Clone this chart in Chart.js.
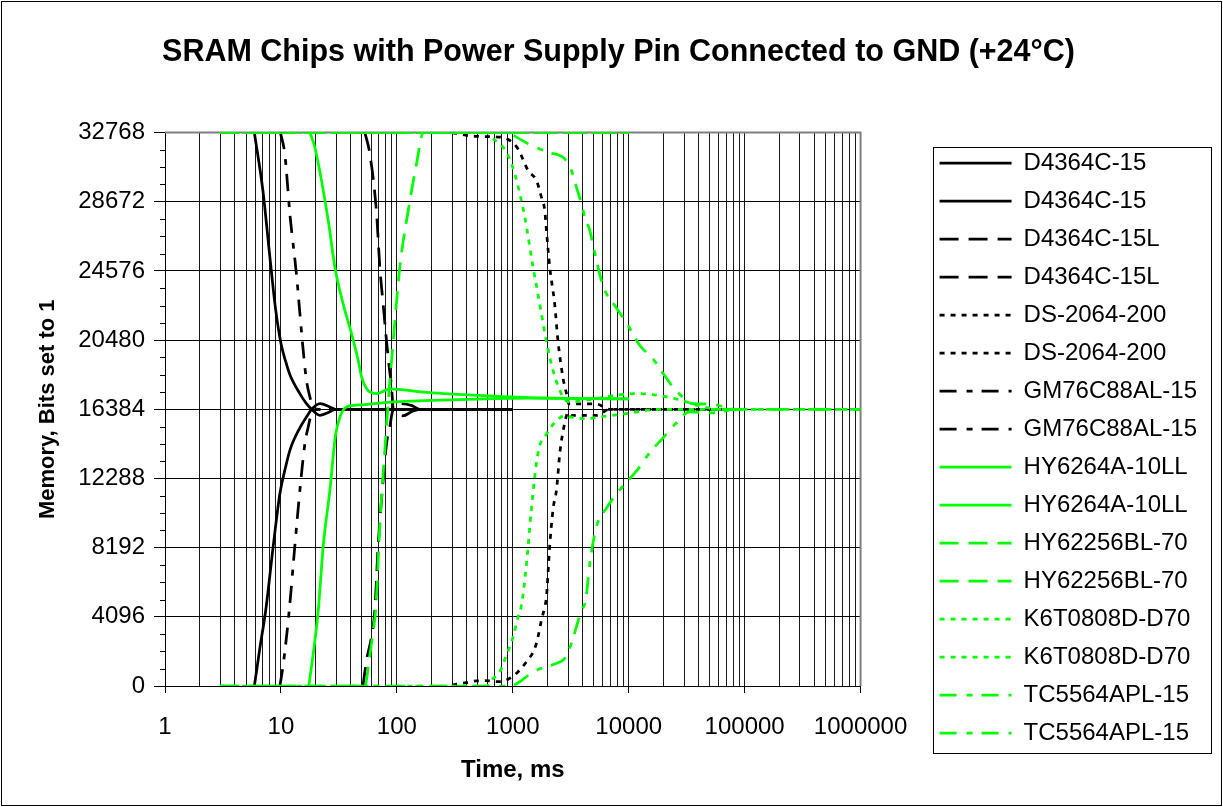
<!DOCTYPE html>
<html><head><meta charset="utf-8">
<script src="https://cdn.jsdelivr.net/npm/chart.js@4.4.1/dist/chart.umd.min.js"></script>
<style>html,body{margin:0;padding:0;background:#fff;}</style>
</head><body>
<canvas id="c" width="1223" height="807"></canvas>
<script>
// ---------- tick labels ----------
const xDecades = [1, 10, 100, 1000, 10000, 100000, 1000000];
const xTickLabels = ['1', '10', '100', '1000', '10000', '100000', '1000000'];
const yTicks = [0, 4096, 8192, 12288, 16384, 20480, 24576, 28672, 32768];
const yMinorStep = 1024;

// ---------- series names (legend order) ----------
const seriesNames = [
  'D4364C-15', 'D4364C-15', 'D4364C-15L', 'D4364C-15L',
  'DS-2064-200', 'DS-2064-200', 'GM76C88AL-15', 'GM76C88AL-15',
  'HY6264A-10LL', 'HY6264A-10LL', 'HY62256BL-70', 'HY62256BL-70',
  'K6T0808D-D70', 'K6T0808D-D70', 'TC5564APL-15', 'TC5564APL-15'
];

// ---------- series values: [time ms, bits set to 1] ----------
const D4364C_15_ones = [[5.9,32768],[7,29300],[8,25500],[9,22300],[10,20300],[11,19200],[12,18400],[14.6,17300],[16.6,16720],[18.4,16384],[21.7,16030],[26.5,16240],[29.5,16384],[1000,16384]];
const D4364C_15_zeros = [[5.9,0],[6.6,2300],[7.4,4500],[8.6,8340],[9.8,11400],[11,13000],[12,14000],[14.6,15300],[16.6,15930],[18.4,16384],[21.7,16720],[26.5,16520],[29.5,16384],[1000,16384]];
const D4364C_15L_ones = [[53,32768],[58.5,31500],[66.8,28000],[71.3,24800],[76.2,22600],[81.5,20400],[86.5,18700],[90,17700],[93,16384],[100,16100],[113,16000],[135,16250],[158,16384],[1000,16384]];
const D4364C_15L_zeros = [[51,0],[54.8,1540],[60,2800],[64.6,4500],[69,8340],[75,11650],[81.5,14360],[87,15345],[90,16000],[93,16384],[106,16720],[135,16600],[158,16384],[1000,16384]];
const DS_2064_200_ones = [[300,32768],[470,32550],[773,32500],[943,32300],[1110,31800],[1356,30520],[1600,29930],[1767,28940],[1888,28150],[1950,27000],[2084,24800],[2300,22600],[2456,20400],[2716,18220],[2900,17340],[3050,16700],[4000,16700],[5250,16700],[6860,16384],[80000,16384]];
const DS_2064_200_zeros = [[300,60],[400,200],[483,300],[574,314],[773,255],[943,455],[1110,846],[1313,1438],[1548,2230],[1651,2916],[1767,3904],[1888,4691],[1950,5247],[2084,8322],[2230,10517],[2383,11617],[2547,13812],[2805,15570],[3000,16200],[3200,16030],[4000,16030],[5250,16030],[6860,16384],[80000,16384]];
const GM76C88AL_15_ones = [[9.9,32768],[10.8,31500],[12,27800],[13.6,24400],[14.6,22000],[15.7,19600],[16.6,18100],[17.8,17100],[19,16500],[21,16384],[1000,16384]];
const GM76C88AL_15_zeros = [[9.8,0],[10.5,1340],[11.8,4500],[13.2,8340],[14.6,11650],[16.1,14360],[17.2,15345],[18,15930],[19,16300],[21,16384],[1000,16384]];
const HY6264A_10LL_ones = [[17.8,32768],[19.6,31900],[25.6,27560],[29.2,24800],[34.5,22600],[40.7,20850],[46.4,19280],[49.6,18300],[54.8,17600],[60,17380],[66.8,17310],[87,17600],[169,17400],[455,17220],[1400,17080],[10000,17000]];
const HY6264A_10LL_zeros = [[17.4,0],[19,1930],[21,4500],[23.2,8340],[26.5,11650],[29.5,14800],[32.3,15930],[36.8,16520],[50,16650],[87,16815],[327,16958],[1400,17050],[10000,17000]];
const HY62256BL_70_ones = [[3,32768],[10000,32768]];
const HY62256BL_70_zeros = [[3,0],[53,0],[57.7,1540],[62.5,3300],[65.7,4500],[71.3,9500],[78.8,14000],[85,17200],[93,20400],[106,24800],[125,28100],[148,30950],[169,32768],[10000,32768]];
const K6T0808D_D70_ones = [[3,32768],[600,32768],[655,32500],[883,31600],[1040,30330],[1150,29140],[1270,27760],[1497,24800],[1710,22600],[1950,20400],[2230,18650],[2716,17110],[3100,16820],[5000,17000],[8500,17250],[12000,17320],[16000,17250],[22000,17100],[29000,16900],[40000,16600],[60000,16384],[100000,16384]];
const K6T0808D_D70_zeros = [[3,0],[600,0],[655,355],[773,846],[883,1834],[1007,2916],[1110,4100],[1188,4791],[1313,7222],[1449,10517],[1651,13812],[1950,14912],[2383,15700],[2805,16000],[3100,15930],[4316,15830],[5620,15930],[9550,16130],[18500,16384],[100000,16384]];
const TC5564APL_15_ones = [[3,32768],[900,32768],[1076,32500],[1356,32110],[1710,31800],[2084,31570],[2456,31450],[2805,31210],[3205,30520],[3540,29540],[3910,28550],[4180,27760],[4610,26990],[5000,25900],[6000,23700],[7830,22380],[9580,21500],[12440,20180],[16500,19300],[19800,18500],[24100,17700],[29100,17120],[35600,16720],[50000,16700],[65000,16550],[80000,16384],[1000000,16384]];
const TC5564APL_15_zeros = [[3,0],[943,0],[1150,255],[1497,846],[1950,1142],[2383,1342],[2805,1638],[3205,2525],[3540,3510],[3910,4495],[4250,5070],[4610,7222],[5260,9420],[6410,10517],[8360,11617],[11640,12717],[15170,13812],[19770,14693],[25770,15570],[33570,16230],[50000,16170],[65000,16250],[80000,16384],[1000000,16384]];

const seriesValues = [
  D4364C_15_ones, D4364C_15_zeros, D4364C_15L_ones, D4364C_15L_zeros,
  DS_2064_200_ones, DS_2064_200_zeros, GM76C88AL_15_ones, GM76C88AL_15_zeros,
  HY6264A_10LL_ones, HY6264A_10LL_zeros, HY62256BL_70_ones, HY62256BL_70_zeros,
  K6T0808D_D70_ones, K6T0808D_D70_zeros, TC5564APL_15_ones, TC5564APL_15_zeros
];

// ---------- styles ----------
const BLACK = '#000000', GREEN = '#00FF00';
const DASH = { solid: [], dashed: [19, 10], dotted: [5, 6], dashdot: [17, 10, 6, 9] };
const seriesColors = [BLACK,BLACK,BLACK,BLACK,BLACK,BLACK,BLACK,BLACK,GREEN,GREEN,GREEN,GREEN,GREEN,GREEN,GREEN,GREEN];
const seriesDash = ['solid','solid','dashed','dashed','dotted','dotted','dashdot','dashdot','solid','solid','dashed','dashed','dotted','dotted','dashdot','dashdot'];
const LINE_W = 2.75;

const xGridValues = [];
for (let k = 0; k < 6; k++) for (let m = 1; m <= 9; m++) xGridValues.push(m * Math.pow(10, k));
xGridValues.push(1000000);
const isDecade = v => xDecades.indexOf(v) >= 0;

const datasets = seriesValues.map((arr, i) => ({
  label: seriesNames[i],
  data: arr.map(p => ({ x: p[0], y: p[1] })),
  borderColor: seriesColors[i],
  backgroundColor: seriesColors[i],
  borderDash: DASH[seriesDash[i]],
  borderWidth: LINE_W,
  pointRadius: 0,
  pointHoverRadius: 0,
  pointStyle: 'line',
  cubicInterpolationMode: 'monotone',
  fill: false,
  order: -i
}));

const decorPlugin = {
  id: 'decor',
  beforeDraw(chart) {
    const { ctx, width, height } = chart;
    ctx.save(); ctx.fillStyle = '#fff'; ctx.fillRect(0, 0, width, height); ctx.restore();
  },
  beforeDatasetsDraw(chart) {
    const { ctx, chartArea: a } = chart;
    const y = chart.scales.y;
    ctx.save();
    ctx.strokeStyle = '#000'; ctx.lineWidth = 1; ctx.beginPath();
    for (let v = yMinorStep; v < 32768; v += yMinorStep) {
      if (v % 4096 === 0) continue;
      const py = Math.round(y.getPixelForValue(v)) + 0.5;
      ctx.moveTo(a.left - 5, py); ctx.lineTo(a.left, py);
    }
    ctx.stroke();
    ctx.strokeStyle = '#808080'; ctx.lineWidth = 2; ctx.beginPath();
    ctx.moveTo(a.left, a.top); ctx.lineTo(a.right, a.top); ctx.lineTo(a.right, a.bottom);
    ctx.stroke();
    ctx.restore();
  },
  afterDraw(chart) {
    const ctx = chart.ctx;
    const hb = chart.legend.legendHitBoxes;
    ctx.save();
    ctx.strokeStyle = '#000'; ctx.lineWidth = 1;
    if (hb && hb.length) {
      let right = 0;
      hb.forEach(h => { right = Math.max(right, h.left + h.width); });
      const left = Math.round(hb[0].left - 7) + 0.5;
      const top = Math.round(hb[0].top - 4) + 0.5;
      const last = hb[hb.length - 1];
      const bottom = Math.round(last.top + last.height + 8) + 0.5;
      const r = Math.round(right + 14) + 0.5;
      ctx.strokeRect(left, top, r - left, bottom - top);
    }
    ctx.strokeRect(1.5, 1.5, chart.width - 3, chart.height - 3);
    ctx.restore();
  }
};

Chart.defaults.font.family = "'Liberation Sans', Arial, sans-serif";
Chart.defaults.color = '#000';

new Chart(document.getElementById('c'), {
  type: 'line',
  data: { datasets },
  plugins: [decorPlugin],
  options: {
    responsive: false,
    animation: false,
    devicePixelRatio: 1,
    layout: { padding: { left: 30, right: 16, top: 0, bottom: 0 } },
    plugins: {
      tooltip: { enabled: false },
      title: {
        display: true,
        text: 'SRAM Chips with Power Supply Pin Connected to GND (+24°C)',
        font: { size: 30.5, weight: 'bold' },
        color: '#000',
        padding: { top: 34, bottom: 62 }
      },
      legend: {
        position: 'right',
        align: 'start',
        maxWidth: 400,
        title: { display: true, text: ' ', font: { size: 10 }, padding: { top: 0, bottom: 125 } },
        labels: {
          usePointStyle: true,
          pointStyle: 'line',
          pointStyleWidth: 72,
          padding: 14,
          font: { size: 24 },
          color: '#000',
          sort: (a, b) => a.datasetIndex - b.datasetIndex,
          generateLabels: chart => {
            const items = Chart.defaults.plugins.legend.labels.generateLabels(chart);
            items.forEach(it => {
              const ds = chart.data.datasets[it.datasetIndex];
              it.lineDash = ds.borderDash;
              it.lineWidth = ds.borderWidth;
              it.strokeStyle = ds.borderColor;
              it.fillStyle = ds.borderColor;
              it.pointStyle = 'line';
            });
            return items;
          }
        }
      }
    },
    scales: {
      x: {
        type: 'logarithmic',
        min: 1, max: 1000000,
        position: 'bottom',
        afterBuildTicks: s => { s.ticks = xGridValues.map(v => ({ value: v })); },
        afterFit: s => { s.height = 121; },
        ticks: {
          autoSkip: false, maxRotation: 0, minRotation: 0, padding: 20,
          font: { size: 24 }, color: '#000',
          callback: v => { const i = xDecades.indexOf(v); return i >= 0 ? xTickLabels[i] : ''; }
        },
        grid: {
          color: '#1a1a1a', lineWidth: 1, tickLength: 7,
          tickColor: c => (c.tick && isDecade(c.tick.value)) ? '#000' : 'rgba(0,0,0,0)'
        },
        border: { color: '#000', width: 1 },
        title: { display: true, text: 'Time, ms', font: { size: 24, weight: 'bold' }, color: '#000', padding: { top: 0, bottom: 22 } }
      },
      y: {
        type: 'linear',
        min: 0, max: 32768,
        position: 'left',
        afterBuildTicks: s => { s.ticks = yTicks.map(v => ({ value: v })); },
        afterFit: s => { s.width = 135; },
        ticks: { padding: 9, font: { size: 24 }, color: '#000', callback: v => String(v) },
        grid: { color: '#000', lineWidth: 1, tickLength: 11, tickColor: '#000' },
        border: { color: '#000', width: 1 },
        title: { display: true, text: 'Memory, Bits set to 1', font: { size: 22, weight: 'bold' }, color: '#000', padding: { top: 5, bottom: 0 } }
      },
      yR: {
        type: 'linear',
        position: 'right',
        display: true,
        grid: { display: false, drawTicks: false },
        ticks: { display: false },
        border: { display: false },
        afterFit: s => { s.width = 65; }
      }
    }
  }
});
</script>
</body></html>
